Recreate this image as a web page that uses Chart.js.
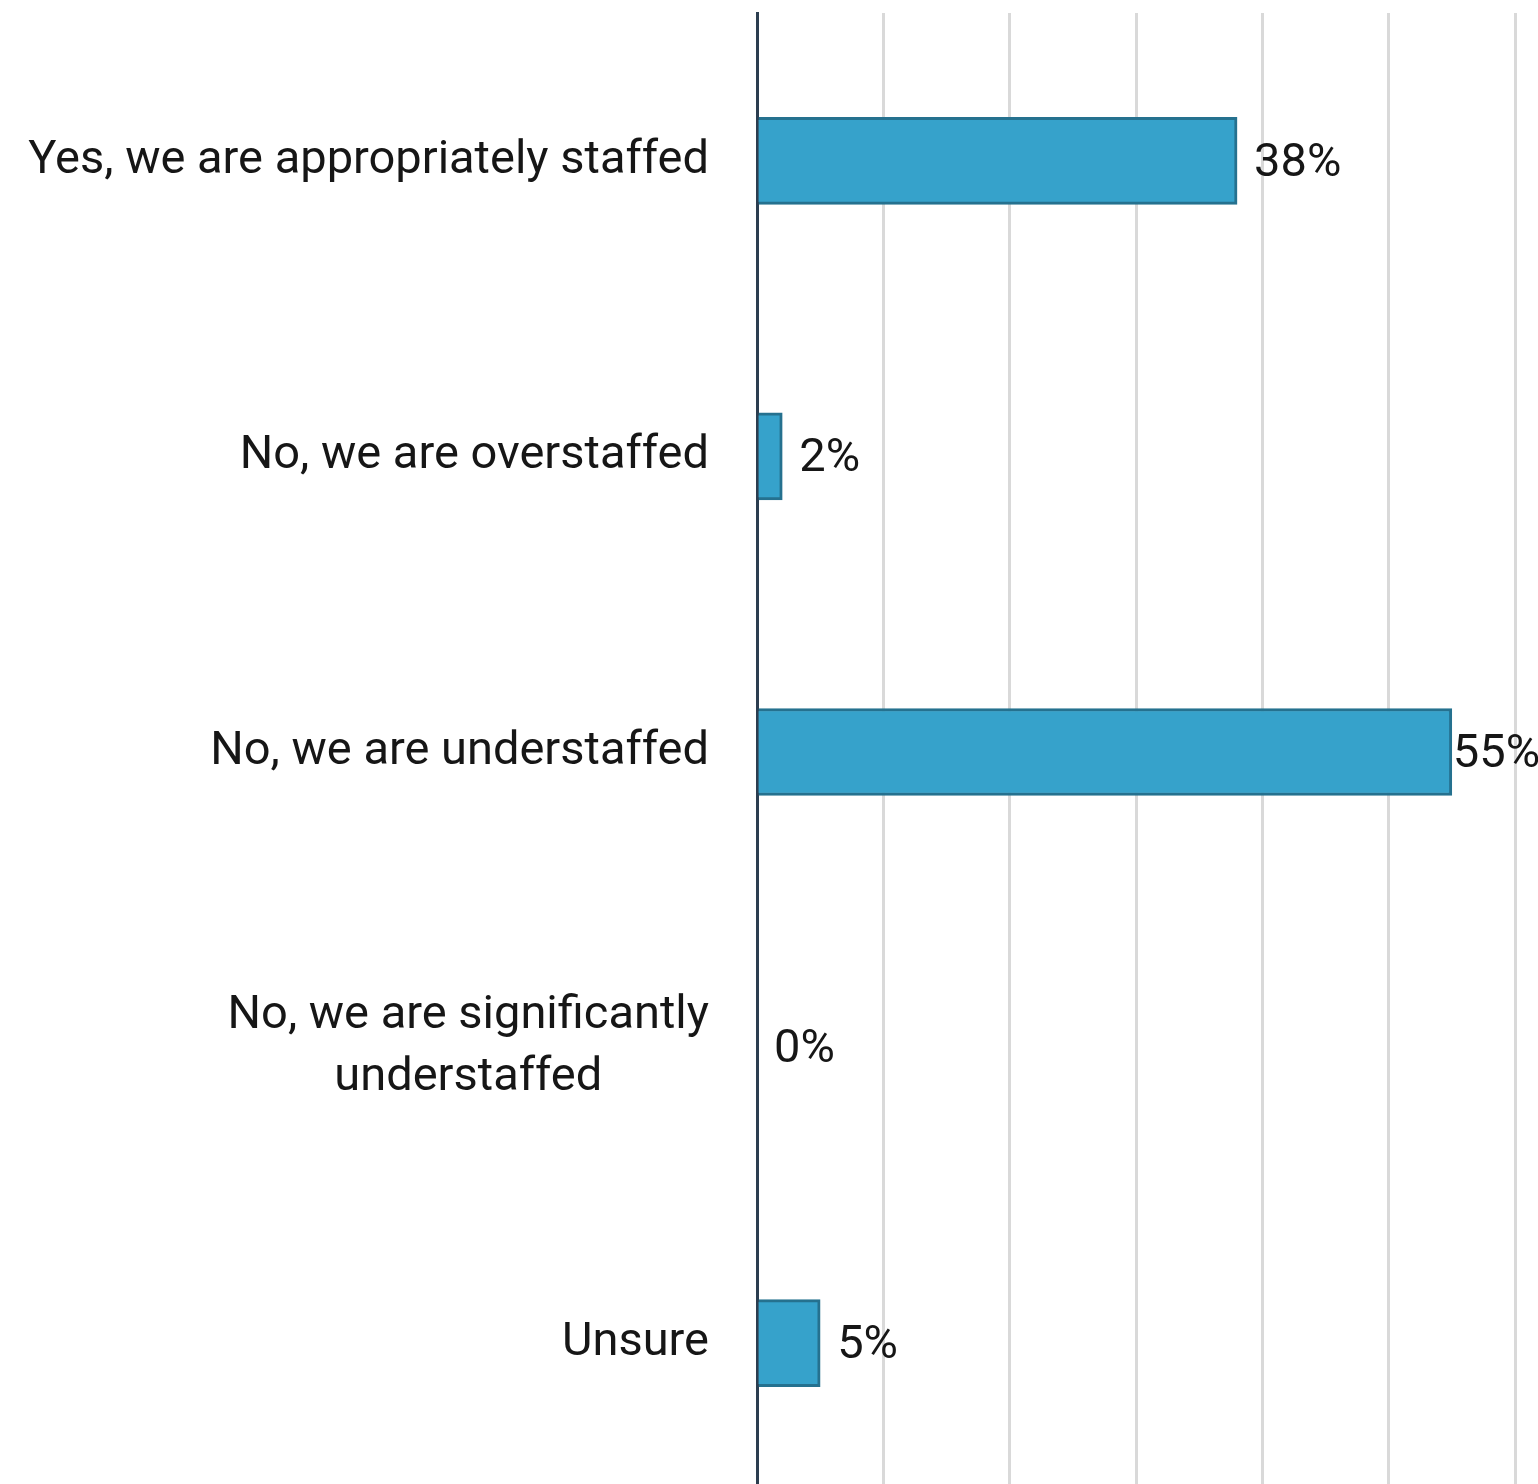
<!DOCTYPE html>
<html>
<head>
<meta charset="utf-8">
<script src="https://cdn.jsdelivr.net/npm/chart.js@4/dist/chart.umd.min.js"></script>
<style>
  html, body { margin: 0; padding: 0; background: #ffffff; overflow: hidden; }
  #wrap { width: 1538px; height: 1491px; position: relative; }
</style>
</head>
<body>
<div id="wrap"><canvas id="c"></canvas></div>
<script>
// Survey answers: is the team appropriately staffed?
const categories = [
  ["Yes, we are appropriately staffed"],
  ["No, we are overstaffed"],
  ["No, we are understaffed"],
  ["No, we are significantly", "understaffed"],
  ["Unsure"]
];
const shares = [38, 2, 55, 0, 5];
const axisMax = 60;
const axisStep = 10;

const FONT = "Roboto, 'Liberation Sans', sans-serif";
const TEXT = "#161616";

// Category labels: single lines right-aligned to the axis gutter,
// wrapped labels centred on one another.
const categoryLabels = {
  id: 'categoryLabels',
  afterDraw(chart) {
    const { ctx } = chart;
    const y = chart.scales.y;
    const right = 709;
    const lineH = 62;
    ctx.save();
    ctx.font = "47px " + FONT;
    ctx.fillStyle = TEXT;
    ctx.textBaseline = 'middle';
    ctx.textAlign = 'center';
    categories.forEach((lines, i) => {
      const cy = y.getPixelForValue(i);
      const widths = lines.map(l => ctx.measureText(l).width);
      const maxW = Math.max(...widths);
      const center = right - maxW / 2;
      const top = cy - (lines.length - 1) * lineH / 2;
      lines.forEach((l, k) => {
        ctx.fillText(l, lines.length > 1 ? center : right - widths[k] / 2, top + k * lineH);
      });
    });
    ctx.restore();
  }
};

// Percentage labels just past the end of each bar
const valueLabels = {
  id: 'valueLabels',
  afterDatasetsDraw(chart) {
    const { ctx } = chart;
    const meta = chart.getDatasetMeta(0);
    ctx.save();
    ctx.font = "47px " + FONT;
    ctx.fillStyle = TEXT;
    ctx.textAlign = 'left';
    ctx.textBaseline = 'middle';
    meta.data.forEach((bar, i) => {
      const txt = shares[i] + '%';
      const w = ctx.measureText(txt).width;
      let x = bar.x + 17;
      x = Math.min(x, 1538 - w - 4);
      x = Math.max(x, bar.x + 1);
      ctx.fillText(txt, x, bar.y + 3);
    });
    ctx.restore();
  }
};

new Chart(document.getElementById('c'), {
  type: 'bar',
  data: {
    labels: categories.map(l => l.join(' ')),
    datasets: [{
      data: shares,
      backgroundColor: '#36a2cb',
      borderColor: '#25718f',
      borderWidth: 3,
      borderSkipped: 'left',
      barThickness: 87
    }]
  },
  options: {
    indexAxis: 'y',
    responsive: true,
    maintainAspectRatio: false,
    animation: false,
    layout: { padding: { left: 757, right: 23, top: 13, bottom: 0 } },
    plugins: {
      legend: { display: false },
      tooltip: { enabled: false }
    },
    scales: {
      x: {
        min: 0,
        max: axisMax,
        ticks: { display: false, stepSize: axisStep },
        grid: { color: '#d9d9d9', lineWidth: 3, drawTicks: false },
        border: { display: false }
      },
      y: {
        ticks: { display: false },
        grid: { display: false, drawTicks: false },
        border: { display: true, color: '#2c3e50', width: 3 }
      }
    }
  },
  plugins: [categoryLabels, valueLabels]
});
</script>
</body>
</html>
